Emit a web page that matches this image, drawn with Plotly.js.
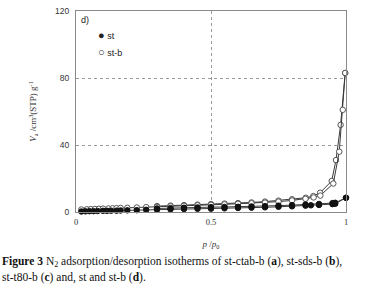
<!DOCTYPE html>
<html>
<head>
<meta charset="utf-8">
<script src="https://cdn.plot.ly/plotly-3.0.1.min.js"></script>
<style>html,body{margin:0;padding:0;background:#fff;}#chart{width:382px;height:294px;}</style>
</head>
<body>
<div id="chart"></div>
<script>
// st-b (open circles)
const stbAdsX = [0.02,0.04,0.055,0.07,0.085,0.10,0.12,0.135,0.15,0.165,0.19,0.225,0.26,0.30,0.35,0.40,0.45,0.50,0.55,0.60,0.65,0.70,0.75,0.80,0.85,0.88,0.905,0.953,0.975,0.988,0.997];
const stbAdsY = [1.5,1.6,1.7,1.8,1.9,2.0,2.1,2.2,2.3,2.4,2.5,2.7,2.9,3.1,3.4,3.7,4.0,4.3,4.6,4.9,5.2,5.6,6.2,6.9,7.9,8.7,9.8,17.0,36.0,61.0,83.0];
const stbDesX = [0.997,0.98,0.963,0.947,0.904,0.879,0.851,0.80,0.75,0.70,0.65,0.60,0.55,0.50,0.45,0.40,0.35,0.30];
const stbDesY = [83.0,52.0,31.0,18.5,11.5,9.5,8.5,7.6,6.8,6.2,5.7,5.3,5.0,4.7,4.4,4.1,3.8,3.5];
// st (filled)
const stAdsX = [0.02,0.035,0.05,0.065,0.08,0.10,0.115,0.13,0.15,0.165,0.19,0.225,0.26,0.30,0.35,0.40,0.45,0.50,0.55,0.60,0.65,0.70,0.75,0.80,0.85,0.87,0.90,0.95,0.96,1.0];
const stAdsY = [0.3,0.4,0.5,0.5,0.6,0.7,0.7,0.8,0.8,0.9,1.0,1.1,1.3,1.4,1.6,1.8,1.9,2.0,2.2,2.4,2.6,2.8,3.1,3.4,3.8,4.0,4.2,4.7,4.9,8.5];
const stDesX = [1.0,0.96,0.95,0.90,0.85,0.80,0.75,0.70,0.65,0.60,0.55,0.50,0.45,0.40,0.35,0.30];
const stDesY = [8.5,5.5,5.3,4.8,4.5,4.1,3.8,3.5,3.3,3.1,3.0,2.9,2.7,2.5,2.3,2.1];
const xTicks = [0,0.5,1];
const xTickText = ['0','0.5','1'];
const yTicks = [0,40,80,120];
const yTickText = ['0','40','80','120'];
const legendNames = ['st','st-b'];

const lineC = '#3a3a3a';
function tr(x,y,filled){
  return {x:x,y:y,mode:'lines+markers',type:'scatter',showlegend:false,cliponaxis:false,
    line:{color:lineC,width:1},
    marker:{symbol:'circle',size:5.5,color:filled?'#111':'#fff',line:{color:filled?'#111':'#555',width:1}}};
}
const data=[tr(stbDesX,stbDesY,false),tr(stbAdsX,stbAdsY,false),tr(stDesX,stDesY,true),tr(stAdsX,stAdsY,true)];

const serif='"Liberation Serif", "DejaVu Serif", serif';
const sans='"Liberation Sans", Arial, sans-serif';
const layout={
  width:382,height:294,
  margin:{l:76,r:36,t:11,b:81.5},
  paper_bgcolor:'#fff',plot_bgcolor:'#fff',
  showlegend:false,
  xaxis:{range:[0,1],tickvals:xTicks,ticktext:xTickText,ticks:'',showline:true,mirror:true,linecolor:'#8a8a8a',linewidth:1,
    showgrid:true,gridcolor:'#9a9a9a',griddash:'dot',gridwidth:1,zeroline:false,
    tickfont:{family:serif,size:8.5,color:'#333'},ticklabelstandoff:2,
    title:{text:'<i>p</i> /<i>p</i><sub>0</sub>',font:{family:serif,size:9,color:'#333'},standoff:14}},
  yaxis:{range:[0,120],tickvals:yTicks,ticktext:yTickText,ticks:'',showline:true,mirror:true,linecolor:'#8a8a8a',linewidth:1,
    showgrid:true,gridcolor:'#9a9a9a',griddash:'dot',gridwidth:1,zeroline:false,
    tickfont:{family:sans,size:8.5,color:'#333'},ticklabelstandoff:4,
    title:{text:'<i>V</i><sub>a</sub> /cm<sup>3</sup>(STP) g<sup>-1</sup>',font:{family:serif,size:9,color:'#333'},standoff:16}},
  annotations:[
    {xref:'paper',yref:'paper',x:0.01,y:0.955,xanchor:'left',yanchor:'middle',showarrow:false,text:'d)',font:{family:sans,size:9,color:'#222'}},
    {xref:'paper',yref:'paper',x:0.075,y:0.88,xanchor:'left',yanchor:'middle',showarrow:false,text:'<span style="font-size:11px">●</span> '+legendNames[0],font:{family:sans,size:9,color:'#222'}},
    {xref:'paper',yref:'paper',x:0.075,y:0.795,xanchor:'left',yanchor:'middle',showarrow:false,text:'<span style="font-size:11px">○</span> '+legendNames[1],font:{family:sans,size:9,color:'#222'}},
    {xref:'paper',yref:'paper',x:-0.2815,y:-0.2506,xanchor:'left',yanchor:'middle',showarrow:false,
      text:'<b>Figure 3</b> N<sub>2</sub> adsorption/desorption isotherms of st-ctab-b (<b>a</b>), st-sds-b (<b>b</b>),',font:{family:serif,size:11.5,color:'#111'}},
    {xref:'paper',yref:'paper',x:-0.2815,y:-0.325,xanchor:'left',yanchor:'middle',showarrow:false,
      text:'st-t80-b (<b>c</b>) and, st and st-b (<b>d</b>).',font:{family:serif,size:11.5,color:'#111'}}
  ]
};
Plotly.newPlot('chart',data,layout,{displayModeBar:false,staticPlot:true});
</script>
</body>
</html>
